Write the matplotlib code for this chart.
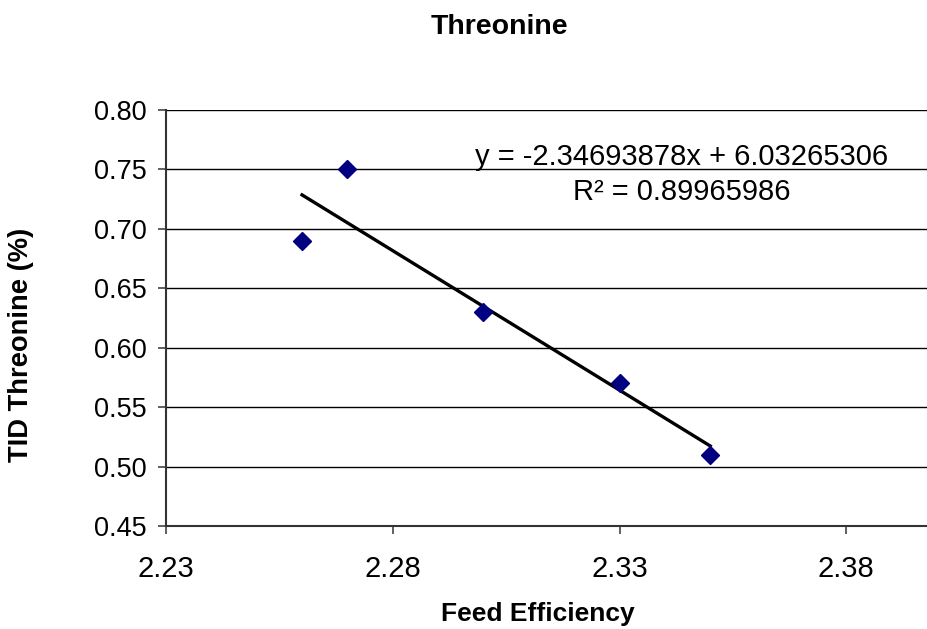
import numpy as np
import matplotlib as mpl
mpl.use("Agg")
import matplotlib.pyplot as plt

mpl.rcParams["font.family"] = ["Liberation Sans", "DejaVu Sans"]

# data
feed_efficiency = [2.26, 2.27, 2.30, 2.33, 2.35]
tid_threonine = [0.69, 0.75, 0.63, 0.57, 0.51]
x_ticks = [2.23, 2.28, 2.33, 2.38]
y_ticks = [0.45, 0.50, 0.55, 0.60, 0.65, 0.70, 0.75, 0.80]

W, H = 927, 629
fig = plt.figure(figsize=(W / 100, H / 100), dpi=100)
# plot area runs past the right edge of the picture (x max 2.40 is cropped)
ax = fig.add_axes([166 / W, 1 - 526 / H, (937 - 166) / W, (526 - 110) / H])

x = np.array(feed_efficiency)
y = np.array(tid_threonine)
slope, intercept = np.polyfit(x, y, 1)
r2 = np.corrcoef(x, y)[0, 1] ** 2

xs = np.array([x.min(), x.max()])
ax.plot(xs, slope * xs + intercept, color="black", lw=2.4, zorder=3)
ax.plot(x, y, linestyle="none", marker="D", ms=9, color="#000080", zorder=4)

ax.set_xlim(2.23, 2.40)
ax.set_ylim(0.45, 0.80)
ax.set_xticks(x_ticks)
ax.set_yticks(y_ticks)
ax.set_xticklabels([f"{v:.2f}" for v in x_ticks])
ax.set_yticklabels([f"{v:.2f}" for v in y_ticks])
ax.tick_params(direction="out", length=6, width=1.2, color="#444444")
ax.tick_params(axis="y", labelsize=19.5, pad=8)
ax.tick_params(axis="x", labelsize=21, pad=15)
ax.yaxis.grid(True, color="black", lw=1.0)
ax.set_axisbelow(True)
for side in ["top", "right"]:
    ax.spines[side].set_visible(False)
for side in ["left", "bottom"]:
    ax.spines[side].set_color("#333333")
    ax.spines[side].set_linewidth(1.5)

ax.text(0.669, 0.845,
        f"y = {slope:.8f}x + {intercept:.8f}\nR² = {r2:.8f}",
        transform=ax.transAxes, ha="center", va="center",
        multialignment="center", fontsize=21, linespacing=1.3)

fig.text(499 / W, 1 - 27 / H, "Threonine", ha="center", va="center",
         fontsize=20.5, fontweight="bold")
fig.text(538 / W, 1 - 614 / H, "Feed Efficiency", ha="center", va="center",
         fontsize=19, fontweight="bold")
fig.text(21 / W, 1 - 345 / H, "TID Threonine (%)", ha="center", va="center",
         rotation=90, fontsize=19.7, fontweight="bold")

fig.savefig("out.png", dpi=100)
